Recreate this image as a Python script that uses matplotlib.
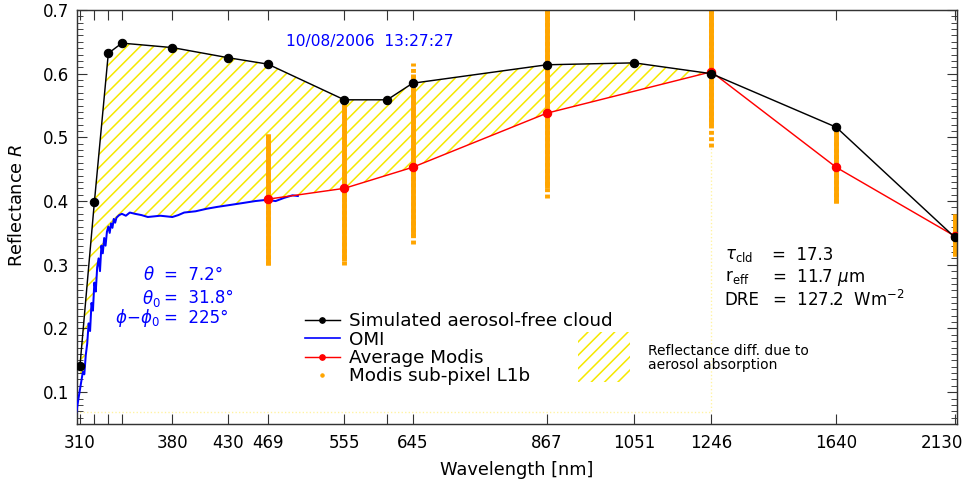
import numpy as np
import matplotlib
matplotlib.use('Agg')
import matplotlib.pyplot as plt
from matplotlib.lines import Line2D
from matplotlib.patches import Rectangle
from matplotlib.ticker import FixedLocator, FixedFormatter, NullLocator, MultipleLocator

# simulated aerosol-free cloud
sim_wl = [310, 320, 330, 340, 380, 430, 469, 555, 610, 645, 867, 1051, 1246, 1640, 2130]
sim_R = [0.141, 0.398, 0.632, 0.648, 0.641, 0.625, 0.615, 0.559, 0.559, 0.585,
         0.614, 0.617, 0.600, 0.516, 0.343]

# OMI spectrum
omi_wl = [307, 308, 309, 310, 311, 312, 313, 314, 315, 316,
          317, 318, 319, 320, 321, 322, 323, 324, 325, 326,
          327, 328, 329, 330, 331, 332, 333, 334, 335, 336,
          338, 340, 343, 346, 350, 355, 360, 365, 370, 375,
          380, 385, 390, 395, 400, 410, 420, 432, 444, 456,
          468, 477, 486, 495, 501]
omi_R = [0.062, 0.075, 0.090, 0.104, 0.118, 0.132, 0.128, 0.158, 0.176, 0.208,
         0.196, 0.240, 0.228, 0.272, 0.258, 0.296, 0.310, 0.290, 0.330, 0.318,
         0.342, 0.330, 0.352, 0.360, 0.350, 0.365, 0.358, 0.372, 0.366, 0.374,
         0.378, 0.380, 0.377, 0.382, 0.380, 0.378, 0.375, 0.376, 0.377, 0.376,
         0.375, 0.378, 0.382, 0.383, 0.384, 0.388, 0.391, 0.394, 0.397, 0.400,
         0.402, 0.400, 0.405, 0.409, 0.408]

# average MODIS
modis_wl = [469, 555, 645, 867, 1246, 1640, 2130]
modis_R = [0.403, 0.420, 0.453, 0.538, 0.603, 0.453, 0.345]

# MODIS sub-pixel spread: dense part and full (sparse) range
sub_lo = [0.300, 0.306, 0.345, 0.420, 0.520, 0.397, 0.313]
sub_hi = [0.505, 0.559, 0.600, 0.705, 0.705, 0.516, 0.380]
sparse_lo = [0.300, 0.300, 0.332, 0.405, 0.485, 0.397, 0.313]
sparse_hi = [0.505, 0.559, 0.617, 0.705, 0.705, 0.516, 0.380]

# faint stray sub-pixel points
faint_wl = [307, 1246, 1246]
faint_R = [0.069, 0.069, 0.485]

tick_wl = [310, 320, 330, 340, 380, 430, 469, 555, 610, 645, 867, 1051, 1246, 1640, 2130]
tick_lab = ['310', '', '', '', '380', '430', '469', '555', '', '645', '867', '1051', '1246', '1640', '']

YELLOW = '#f5e800'
ORANGE = '#ffa500'
BLUE = '#0000ff'
RED = '#ff0000'

plt.rcParams['hatch.linewidth'] = 1.4

DPI = 80
fig = plt.figure(figsize=(969 / DPI, 482 / DPI), dpi=DPI)
ax = fig.add_axes([77 / 969, 58 / 482, 880 / 969, 414 / 482])
ax.set_xscale('log')
ax.set_xlim(308, 2140)
ax.set_ylim(0.05, 0.70)

# hatched difference region (cloud minus OMI / MODIS) up to 1246 nm
omi_wl_a = np.array(omi_wl)
omi_R_a = np.array(omi_R)
sel = (omi_wl_a >= 310) & (omi_wl_a <= 469)
poly_x = list(sim_wl[:13]) + list(modis_wl[4::-1]) + list(omi_wl_a[sel][::-1])
poly_y = list(sim_R[:13]) + list(modis_R[4::-1]) + list(omi_R_a[sel][::-1])
ax.fill(poly_x, poly_y, facecolor='none', edgecolor=YELLOW, hatch='//', linewidth=0, zorder=1)

ax.plot(faint_wl, faint_R, color='#fff3a0', ls=':', lw=1.2, zorder=1)

ax.vlines(modis_wl, sparse_lo, sparse_hi, color=ORANGE, lw=4.4, ls=(0, (0.8, 0.5)), zorder=2)
ax.vlines(modis_wl, sub_lo, sub_hi, color=ORANGE, lw=4.4, zorder=2)

ax.plot(omi_wl, omi_R, color=BLUE, lw=1.8, zorder=3)
ax.plot(modis_wl, modis_R, color=RED, lw=1.3, marker='o', ms=7.5, zorder=4)
ax.plot(sim_wl, sim_R, color='black', lw=1.3, marker='o', ms=7.5, zorder=5)

# axes styling
ax.xaxis.set_major_locator(FixedLocator(tick_wl))
ax.xaxis.set_major_formatter(FixedFormatter(tick_lab))
ax.xaxis.set_minor_locator(NullLocator())
ax.yaxis.set_major_locator(MultipleLocator(0.1))
ax.yaxis.set_minor_locator(MultipleLocator(0.01))
ax.tick_params(which='both', direction='in', top=True, right=True, color='#333333')
ax.tick_params(which='major', length=9, width=1)
ax.tick_params(which='minor', length=5.5, width=0.8)
ax.tick_params(axis='x', pad=9, labelsize=15)
ax.tick_params(axis='y', pad=7, labelsize=15)
for s in ax.spines.values():
    s.set_linewidth(1.3)
    s.set_color('#333333')

# last tick label sits pulled in from the right edge
ax.annotate('2130', xy=(2130, 0), xycoords=('data', 'axes fraction'),
            xytext=(-12, -9), textcoords='offset points', fontsize=15,
            ha='center', va='top', annotation_clip=False)

ax.set_xlabel('Wavelength [nm]', fontsize=16, va='center')
ax.xaxis.set_label_coords(0.5, -0.111)
ax.set_ylabel('Reflectance $R$', fontsize=16, va='center')
ax.yaxis.set_label_coords(-0.0685, 0.529)

# annotations
ax.text(0.333, 0.923, '10/08/2006  13:27:27', color=BLUE, fontsize=14,
        ha='center', va='center', transform=ax.transAxes)

ang_left = [r'$\theta$  ', r'$\theta_0$', r'$\phi\!-\!\phi_0$']
ang_right = ['=  7.2°', '=  31.8°', '=  225°']
ang_y = [0.360, 0.304, 0.256]
for l, r, y in zip(ang_left, ang_right, ang_y):
    ax.text(0.095, y, l, color=BLUE, fontsize=15, ha='right', va='center', transform=ax.transAxes)
    ax.text(0.099, y, r, color=BLUE, fontsize=15, ha='left', va='center', transform=ax.transAxes)

par_left = [r'$\tau_{\rm cld}$', r'r$_{\rm eff}$', 'DRE']
par_right = ['=  17.3', r'=  11.7 $\mu$m', r'=  127.2  Wm$^{-2}$']
par_y = [0.408, 0.355, 0.300]
for l, r, y in zip(par_left, par_right, par_y):
    ax.text(0.736, y, l, color='black', fontsize=15, ha='left', va='center', transform=ax.transAxes)
    ax.text(0.790, y, r, color='black', fontsize=15, ha='left', va='center', transform=ax.transAxes)

# legend
handles = [
    Line2D([], [], color='black', lw=1.3, marker='o', ms=5),
    Line2D([], [], color=BLUE, lw=1.5),
    Line2D([], [], color=RED, lw=1.3, marker='o', ms=5),
    Line2D([], [], color=ORANGE, ls='none', marker='o', ms=3),
]
labels = ['Simulated aerosol-free cloud', 'OMI', 'Average Modis', 'Modis sub-pixel L1b']
ax.legend(handles, labels, loc='upper left', bbox_to_anchor=(0.259, 0.270),
          frameon=False, fontsize=16.5, labelspacing=0.02, handlelength=1.9,
          handletextpad=0.5, borderpad=0, borderaxespad=0)

ax.add_patch(Rectangle((0.569, 0.101), 0.059, 0.121, transform=ax.transAxes,
                       facecolor='none', edgecolor=YELLOW, hatch='//', linewidth=0))
ax.text(0.649, 0.159, 'Reflectance diff. due to\naerosol absorption', fontsize=12.5,
        ha='left', va='center', linespacing=0.95, transform=ax.transAxes)

fig.savefig('out.png', dpi=DPI)
